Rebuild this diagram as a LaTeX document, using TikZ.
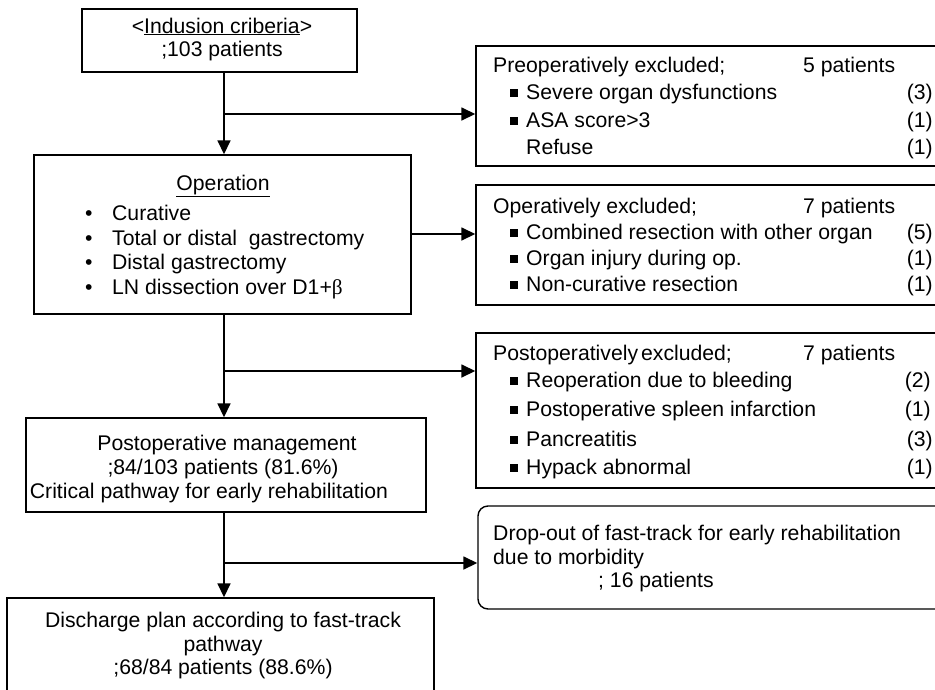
\documentclass[tikz,border=0pt]{standalone}
\usepackage{fontspec}
\setmainfont{Liberation Sans}
\newfontfamily\serifgr{Liberation Serif}
\usetikzlibrary{arrows.meta}
\newcommand\sqb{\raisebox{2.5pt}{\rule{7.5pt}{7.5pt}}\hspace{8.5pt}}
\newcommand\bul{\makebox[27pt][l]{\textbullet}}
\begin{document}
\begin{tikzpicture}[x=1pt,y=-1pt,
  box/.style={draw, line width=1.4pt, rectangle, inner sep=0pt},
  txt/.style={anchor=base, inner sep=0pt, font=\fontsize{21.2}{25}\selectfont},
  ltxt/.style={txt, anchor=base west},
  rtxt/.style={txt, anchor=base east},
  conn/.style={line width=1.6pt, -{Triangle[length=14pt,width=13pt]}},
]
\useasboundingbox (0,0) rectangle (935,689);
\clip (0,0) rectangle (935,689);

% left column boxes
\node[box, minimum width=275pt, minimum height=63pt] (inc) at (219.5,40.5) {};
\node[box, minimum width=377pt, minimum height=159pt] (op) at (222.5,234.5) {};
\node[box, minimum width=400pt, minimum height=94pt] (pm) at (226,465) {};
\node[box, minimum width=427pt, minimum height=112pt] (dis) at (220.5,654) {};

% right column boxes
\node[box, minimum width=469pt, minimum height=120pt] (pre) at (710.5,106) {};
\node[box, minimum width=469pt, minimum height=120pt] (opex) at (710.5,245) {};
\node[box, minimum width=469pt, minimum height=155pt] (post) at (710.5,410.5) {};
\node[box, rounded corners=10pt, minimum width=467pt, minimum height=103pt] (drop) at (711.5,557.5) {};

% connectors
\coordinate (sp) at (224,0);
\coordinate (b1) at (224,114);
\coordinate (a2) at (0,234);
\coordinate (b3) at (224,371);
\coordinate (b4) at (224,563);
\draw[conn] (inc.south -| sp) -- (op.north -| sp);
\draw[conn] (b1) -- (b1 -| pre.west);
\draw[conn] (op.east |- a2) -- (opex.west |- a2);
\draw[conn] (op.south -| sp) -- (pm.north -| sp);
\draw[conn] (b3) -- (b3 -| post.west);
\draw[conn] (pm.south -| sp) -- (dis.north -| sp);
\draw[conn] (b4) -- (b4 -| drop.west);

% inclusion text
\node[txt] (i1) at (222,33) {<\underline{Indusion criberia}>};
\node[txt] (i2) at (222,56) {;103 patients};

% operation text
\node[txt] (o0) at (223,190) {\underline{Operation}};
\node[ltxt] (o1) at (85,220) {\bul Curative};
\node[ltxt] (o2) at (85,245) {\bul Total or distal\ \ gastrectomy};
\node[ltxt] (o3) at (85,269) {\bul Distal gastrectomy};
\node[ltxt] (o4) at (85,294) {\bul LN dissection over D1+{\serifgr β}};

% postoperative management text
\node[txt] (p1) at (227,450) {Postoperative management};
\node[txt] (p2) at (223,474) {;84/103 patients (81.6\%)};
\node[txt] (p3) at (209,498) {Critical pathway for early rehabilitation};

% discharge text
\node[txt] (d1) at (223,627) {Discharge plan according to fast-track};
\node[txt] (d2) at (223,651) {pathway};
\node[txt] (d3) at (223,674) {;68/84 patients (88.6\%)};

% preoperatively excluded
\node[ltxt] (r1) at (493,72) {Preoperatively excluded;};
\node[ltxt] (r1n) at (803,72) {5 patients};
\node[ltxt] (r2) at (510,99) {\sqb Severe organ dysfunctions};
\node[rtxt] (r2n) at (933,99) {(3)};
\node[ltxt] (r3) at (510,127) {\sqb ASA score>3};
\node[rtxt] (r3n) at (933,127) {(1)};
\node[ltxt] (r4) at (526,154) {Refuse};
\node[rtxt] (r4n) at (933,154) {(1)};

% operatively excluded
\node[ltxt] (s1) at (493,213) {Operatively excluded;};
\node[ltxt] (s1n) at (803,213) {7 patients};
\node[ltxt] (s2) at (510,239) {\sqb Combined resection with other organ};
\node[rtxt] (s2n) at (933,239) {(5)};
\node[ltxt] (s3) at (510,265) {\sqb Organ injury during op.};
\node[rtxt] (s3n) at (933,265) {(1)};
\node[ltxt] (s4) at (510,291) {\sqb Non-curative resection};
\node[rtxt] (s4n) at (933,291) {(1)};

% postoperatively excluded
\node[ltxt] (u1) at (493,360) {Postoperatively\hspace{3pt}excluded;};
\node[ltxt] (u1n) at (803,360) {7 patients};
\node[ltxt] (u2) at (510,387) {\sqb Reoperation due to bleeding};
\node[rtxt] (u2n) at (931,387) {(2)};
\node[ltxt] (u3) at (510,416) {\sqb Postoperative spleen infarction};
\node[rtxt] (u3n) at (931,416) {(1)};
\node[ltxt] (u4) at (510,446) {\sqb Pancreatitis};
\node[rtxt] (u4n) at (933,446) {(3)};
\node[ltxt] (u5) at (510,474) {\sqb Hypack abnormal};
\node[rtxt] (u5n) at (933,474) {(1)};

% drop-out
\node[ltxt] (w1) at (493,540) {Drop-out of fast-track for early rehabilitation};
\node[ltxt] (w2) at (493,564) {due to morbidity};
\node[ltxt] (w3) at (598,587) {; 16 patients};
\end{tikzpicture}
\end{document}
